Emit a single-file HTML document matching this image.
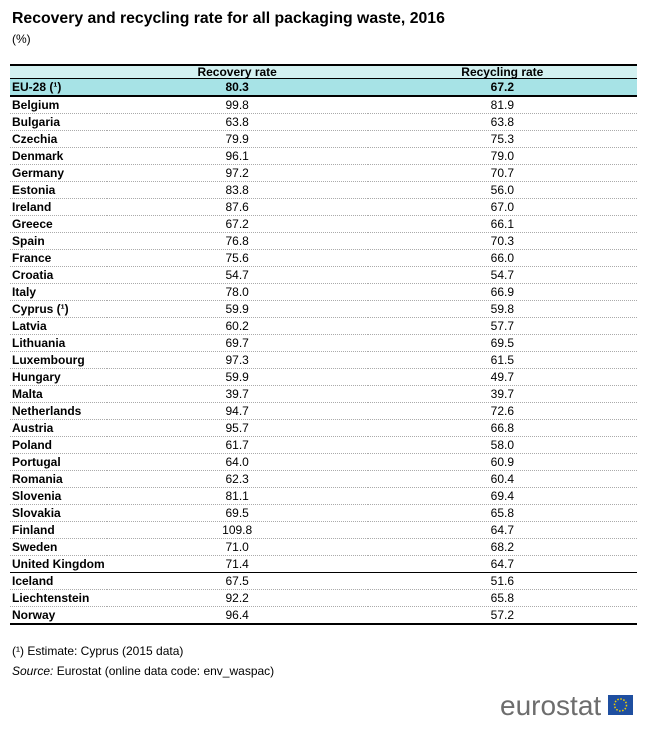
<!DOCTYPE html>
<html><head><meta charset="utf-8"><style>
body{margin:0;width:651px;height:732px;background:#fff;font-family:"Liberation Sans",Arial,sans-serif;color:#000;position:relative;overflow:hidden}
#title{position:absolute;left:12px;top:10px;font-size:15.8px;font-weight:bold}
#unit{position:absolute;left:12px;top:32px;font-size:12px}
table{position:absolute;left:10px;top:64px;width:627px;border-collapse:collapse;font-size:12px;white-space:nowrap}
td,th{height:16px;padding:0 2px;border-bottom:1px dotted #aaa;line-height:16px}
th{font-weight:bold;background:#d3f1f1;border-top:2px solid #000;border-bottom:1px solid #000;height:12px;line-height:12px}
td:first-child{font-weight:bold;width:92px;text-align:left}
td{text-align:center}
tr.eu td{background:#a7e3e6;font-weight:bold;border-bottom:2px solid #000}
tr.sep td{border-bottom:1px solid #000}
tr:last-child td{border-bottom:2px solid #000}
#note{position:absolute;left:12px;top:644px;font-size:12px}
#src{position:absolute;left:12px;top:664px;font-size:12px}
#logo{position:absolute;left:500px;top:690px;font-size:28px;color:#6d6d6d;letter-spacing:0}
#flag{position:absolute;left:608px;top:695px;width:25px;height:20px;background:#1f4fa0}
</style></head><body>
<div id="title">Recovery and recycling rate for all packaging waste, 2016</div>
<div id="unit">(%)</div>
<table>
<tr><th></th><th>Recovery rate</th><th>Recycling rate</th></tr>
<tr class="eu"><td>EU-28 (¹)</td><td>80.3</td><td>67.2</td></tr>
<tr><td>Belgium</td><td>99.8</td><td>81.9</td></tr>
<tr><td>Bulgaria</td><td>63.8</td><td>63.8</td></tr>
<tr><td>Czechia</td><td>79.9</td><td>75.3</td></tr>
<tr><td>Denmark</td><td>96.1</td><td>79.0</td></tr>
<tr><td>Germany</td><td>97.2</td><td>70.7</td></tr>
<tr><td>Estonia</td><td>83.8</td><td>56.0</td></tr>
<tr><td>Ireland</td><td>87.6</td><td>67.0</td></tr>
<tr><td>Greece</td><td>67.2</td><td>66.1</td></tr>
<tr><td>Spain</td><td>76.8</td><td>70.3</td></tr>
<tr><td>France</td><td>75.6</td><td>66.0</td></tr>
<tr><td>Croatia</td><td>54.7</td><td>54.7</td></tr>
<tr><td>Italy</td><td>78.0</td><td>66.9</td></tr>
<tr><td>Cyprus (¹)</td><td>59.9</td><td>59.8</td></tr>
<tr><td>Latvia</td><td>60.2</td><td>57.7</td></tr>
<tr><td>Lithuania</td><td>69.7</td><td>69.5</td></tr>
<tr><td>Luxembourg</td><td>97.3</td><td>61.5</td></tr>
<tr><td>Hungary</td><td>59.9</td><td>49.7</td></tr>
<tr><td>Malta</td><td>39.7</td><td>39.7</td></tr>
<tr><td>Netherlands</td><td>94.7</td><td>72.6</td></tr>
<tr><td>Austria</td><td>95.7</td><td>66.8</td></tr>
<tr><td>Poland</td><td>61.7</td><td>58.0</td></tr>
<tr><td>Portugal</td><td>64.0</td><td>60.9</td></tr>
<tr><td>Romania</td><td>62.3</td><td>60.4</td></tr>
<tr><td>Slovenia</td><td>81.1</td><td>69.4</td></tr>
<tr><td>Slovakia</td><td>69.5</td><td>65.8</td></tr>
<tr><td>Finland</td><td>109.8</td><td>64.7</td></tr>
<tr><td>Sweden</td><td>71.0</td><td>68.2</td></tr>
<tr class="sep"><td>United Kingdom</td><td>71.4</td><td>64.7</td></tr>
<tr><td>Iceland</td><td>67.5</td><td>51.6</td></tr>
<tr><td>Liechtenstein</td><td>92.2</td><td>65.8</td></tr>
<tr><td>Norway</td><td>96.4</td><td>57.2</td></tr>
</table>
<div id="note">(¹) Estimate: Cyprus (2015 data)</div>
<div id="src"><i>Source:</i> Eurostat (online data code: env_waspac)</div>
<div id="logo">eurostat</div>
<div id="flag"><svg width="25" height="20"><circle cx="12.5" cy="10" r="6" fill="none" stroke="#f5d000" stroke-width="1.5" stroke-dasharray="1.5 1.6"/></svg></div>
</body></html>
